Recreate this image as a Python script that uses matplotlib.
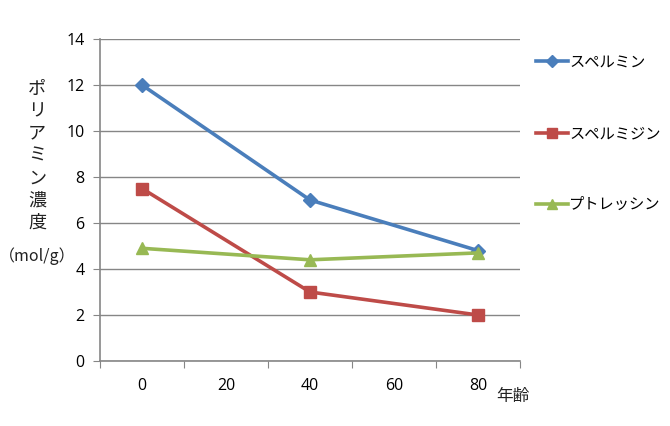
import numpy as np
import matplotlib.pyplot as plt

plt.rcParams['font.family'] = ['Noto Sans CJK JP', 'DejaVu Sans']

# data
ages = [0, 40, 80]
spermine = [12.0, 7.0, 4.8]
spermidine = [7.5, 3.0, 2.0]
putrescine = [4.9, 4.4, 4.7]
labels = ['スペルミン', 'スペルミジン', 'プトレッシン']
xtick_labels = [0, 20, 40, 60, 80]

fig = plt.figure(figsize=(6.7, 4.26), dpi=100)
ax = fig.add_axes([100 / 670, 65 / 426, 420 / 670, 322 / 426])

ax.plot(ages, spermine, color='#4A7EBB', lw=2.6, marker='D', ms=7, label=labels[0])
ax.plot(ages, spermidine, color='#BE4B48', lw=2.6, marker='s', ms=9, label=labels[1])
ax.plot(ages, putrescine, color='#98B954', lw=2.6, marker='^', ms=9, label=labels[2])

ax.set_xlim(-10, 90)
ax.set_ylim(0, 14)
ax.set_yticks(np.arange(0, 15, 2))
ax.set_xticks(np.arange(-10, 91, 20))
ax.set_xticklabels([])
ax.set_xticks(xtick_labels, minor=True)
ax.set_xticklabels([str(v) for v in xtick_labels], minor=True)
ax.tick_params(axis='x', which='minor', length=0, pad=12, labelsize=11.5)
ax.tick_params(axis='x', which='major', length=5, color='#868686')
ax.tick_params(axis='y', length=5, color='#868686', labelsize=11.5, pad=6)
for lbl in ax.get_xticklabels(minor=True) + ax.get_yticklabels():
    lbl.set_family(['Open Sans', 'DejaVu Sans'])

ax.grid(axis='y', color='#868686', lw=1)
ax.set_axisbelow(True)
for s in ['top', 'right']:
    ax.spines[s].set_visible(False)
for s in ['left', 'bottom']:
    ax.spines[s].set_color('#868686')
    ax.spines[s].set_linewidth(1.2)

# axis titles
fig.text(37 / 670, 1 - 156 / 426, '\n'.join('ポリアミン濃度'), ha='center', va='center',
         fontsize=13, linespacing=1.3, color='#222222')
fig.text(37 / 670, 1 - 256 / 426, '（mol/g）', ha='center', va='center',
         fontsize=11.5, color='#222222')
fig.text(513 / 670, 1 - 397 / 426, '年齢', ha='center', va='center',
         fontsize=12, color='#222222')

fig.legend(loc='upper left', bbox_to_anchor=(522 / 670, 1 - 40 / 426), frameon=False,
           fontsize=11, labelspacing=3.55, handlelength=2.1, handletextpad=0.1,
           markerscale=0.85)

fig.savefig('out.png', dpi=100)
